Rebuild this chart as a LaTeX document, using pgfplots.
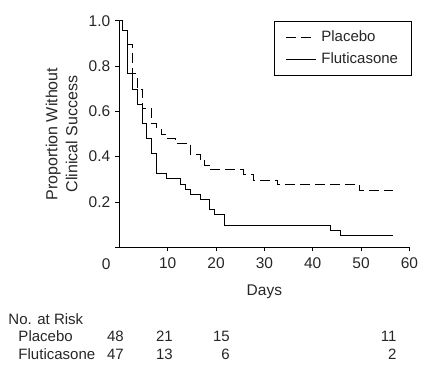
\documentclass[border=0pt]{standalone}
\usepackage{pgfplots}
\pgfplotsset{compat=1.18}
\usepackage{fontspec}
\setmainfont{Liberation Sans}
\definecolor{txt}{gray}{0.15}
\begin{document}
\fontsize{15}{20}\selectfont
\begin{tikzpicture}
\useasboundingbox (-119.4pt,-117.7pt) rectangle (301.6pt,247.3pt);
\begin{axis}[
  scale only axis,
  width=290pt, height=226.6pt,
  xmin=0, xmax=60, ymin=0, ymax=1,
  axis x line=bottom, axis y line=left,
  axis line style={-, line width=0.8pt},
  xtick={10,20,30,40,50,60},
  ytick={0,0.2,0.4,0.6,0.8,1},
  yticklabels={,0.2,0.4,0.6,0.8,1.0},
  tick align=outside, major tick length=4pt,
  tick style={line width=0.8pt, black},
  /pgf/number format/assume math mode=true,
  tick label style={font=\fontsize{15.5}{18}\selectfont, text=txt},
  xticklabel style={yshift=-1pt},
  xlabel={Days},
  xlabel style={at={(axis description cs:0.5,-0.197)}, anchor=center, font=\fontsize{15.5}{18}\selectfont, text=txt},
  ylabel={Proportion Without\\Clinical Success},
  ylabel style={at={(axis description cs:-0.199,0.5)}, anchor=center, rotate=0, align=center, font=\fontsize{16}{20}\selectfont, text=txt},
  legend style={at={(axis cs:60,1)}, anchor=north east, xshift=2pt, yshift=-0.5pt,
    draw=black, line width=0.6pt, font=\fontsize{15}{18}\selectfont, text=txt,
    inner xsep=11pt, inner ysep=7.5pt, row sep=5pt, cells={anchor=west}},
  legend image code/.code={\draw[#1] (0pt,0pt) -- (30pt,0pt);},
  /tikz/every odd column/.append style={column sep=3pt},
]
\addplot[const plot, black, line width=1pt, dash pattern=on 10pt off 5pt] coordinates {
(0,1.0) (0.7,0.958) (1.7,0.894) (2.7,0.766) (3.7,0.698) (4.7,0.612) (6.7,0.545)
(7.7,0.522) (8.7,0.50) (9.7,0.48) (11.7,0.459) (14.7,0.41) (16.7,0.387)
(17.7,0.363) (18.7,0.342) (25.7,0.322) (27.7,0.297) (32.7,0.275) (49.7,0.25) (56.7,0.25)};
\addlegendentry{Placebo}
\addplot[const plot, black, line width=1pt] coordinates {
(0,1.0) (0.7,0.957) (1.7,0.766) (2.7,0.698) (3.7,0.632) (4.7,0.545) (5.7,0.479)
(6.7,0.413) (7.7,0.325) (9.7,0.304) (12.7,0.279) (13.7,0.256) (14.7,0.235)
(16.7,0.21) (18.7,0.165) (19.7,0.144) (21.7,0.096) (43.7,0.073) (45.7,0.05) (56.7,0.05)};
\addlegendentry{Fluticasone}
\end{axis}
\node[text=txt, anchor=center, font=\fontsize{15.5}{18}\selectfont] at (-13.2pt,-17pt) {0};
\begin{scope}[every node/.style={text=txt, inner sep=0pt}]
\node[anchor=base west] at (-111.1pt,-76.7pt) {No. at Risk};
\node[anchor=base west] at (-101.1pt,-94.4pt) {Placebo};
\node[anchor=base west] at (-101.1pt,-112pt) {Fluticasone};
\node[anchor=base east] at (4.6pt,-94.4pt) {48};
\node[anchor=base east] at (53.6pt,-94.4pt) {21};
\node[anchor=base east] at (110.6pt,-94.4pt) {15};
\node[anchor=base east] at (277.3pt,-94.4pt) {11};
\node[anchor=base east] at (4.6pt,-112pt) {47};
\node[anchor=base east] at (53.6pt,-112pt) {13};
\node[anchor=base east] at (110.6pt,-112pt) {6};
\node[anchor=base east] at (277.3pt,-112pt) {2};
\end{scope}
\end{tikzpicture}
\end{document}
